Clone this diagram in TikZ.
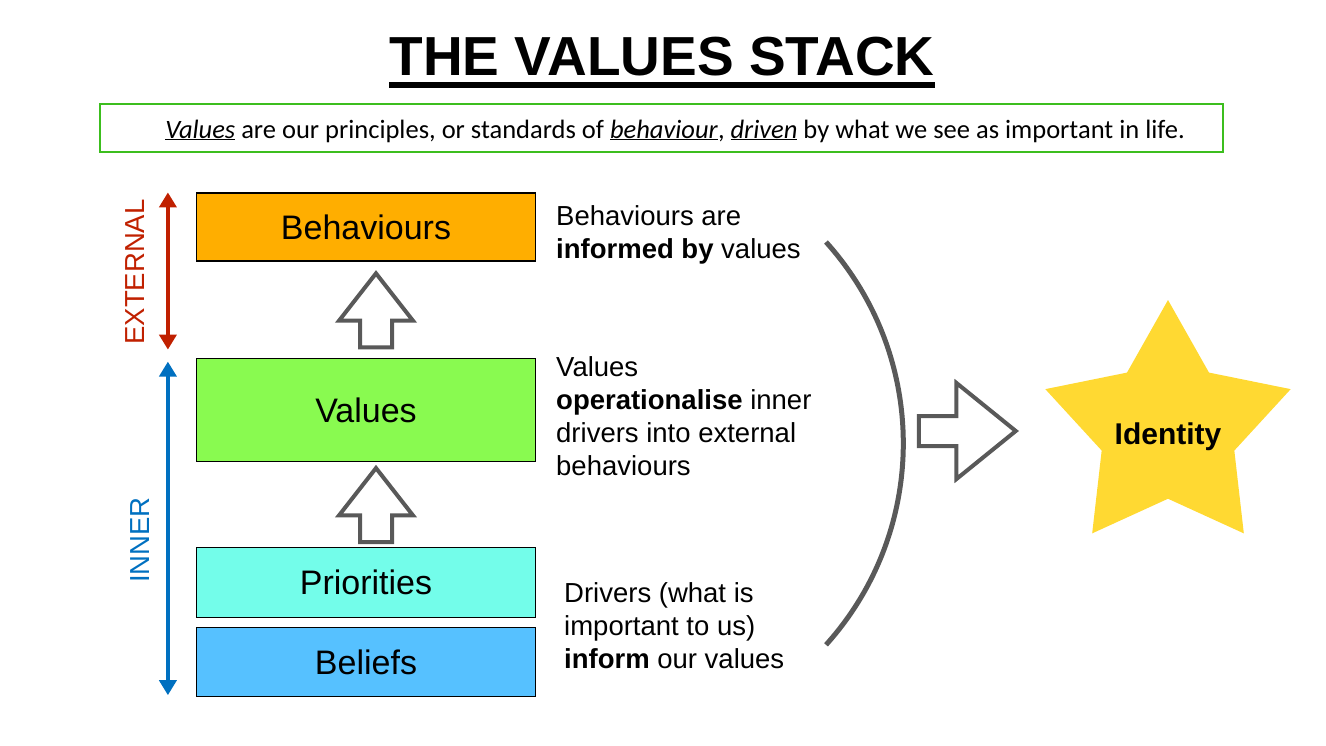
\documentclass[tikz,border=0pt]{standalone}
\usepackage{fontspec}
\setmainfont{Liberation Sans}
\newfontfamily\calibrifont{Carlito}
\usepackage{xcolor}
\usepackage{tikz}
\usetikzlibrary{shapes.geometric, shapes.arrows, arrows.meta, positioning, calc}
\definecolor{behavorange}{RGB}{255, 174, 0}
\definecolor{valuegreen}{RGB}{137, 250, 80}
\definecolor{prioritycyan}{RGB}{115, 253, 234}
\definecolor{beliefblue}{RGB}{86, 193, 255}
\definecolor{staryellow}{RGB}{255, 217, 50}
\definecolor{arrowgrey}{RGB}{89, 89, 89}
\definecolor{externalred}{RGB}{192, 32, 0}
\definecolor{innerblue}{RGB}{0, 112, 192}
\definecolor{framegreen}{RGB}{60, 190, 30}

\begin{document}
\begin{tikzpicture}[x=1pt, y=-1pt,
    stackbox/.style={draw=black, line width=1.2pt, minimum width=339pt, inner sep=0pt,
        font=\fontsize{34}{40}\selectfont, text height=25pt, text depth=0pt},
    sidetext/.style={anchor=north west, inner sep=0pt, align=left,
        font=\fontsize{27.5}{33}\selectfont},
    sidelabel/.style={rotate=90, inner sep=0pt, font=\fontsize{27.5}{33}\selectfont},
    hollowup/.style={single arrow, draw=arrowgrey, fill=white, line width=4pt,
        shape border rotate=90, inner xsep=14pt, inner ysep=0pt, minimum height=74pt,
        minimum width=72pt, single arrow head extend=21pt, single arrow tip angle=76,
        xshift=10pt, yshift=-11pt},
    rangearrow/.style={line width=4pt, {Triangle[width=17pt,length=15pt]}-{Triangle[width=17pt,length=15pt]}}
]
    \useasboundingbox (0,0) rectangle (1326,745);

    % title and definition
    \node[anchor=base, inner sep=0pt, font=\fontsize{55}{60}\selectfont\bfseries] (title) at (662,75) {THE VALUES STACK};
    \draw[line width=6pt] ([yshift=-10pt]title.base west) -- ([yshift=-10pt]title.base east);
    \node[draw=framegreen, line width=2.5pt, minimum width=1123pt, minimum height=48pt] (defbox) at (661.5,128) {};
    \node[anchor=base, inner sep=0pt, font=\calibrifont\fontsize{26.5}{30}\selectfont] (defn) at (675,138)
        {\underline{\textit{Values}} are our principles, or standards of \underline{\textit{behaviour}}, \underline{\textit{driven}} by what we see as important in life.};

    % the stack
    \node[stackbox, fill=behavorange, minimum height=68pt] (behav) at (366,227) {Behaviours};
    \node[stackbox, fill=valuegreen, minimum height=103pt, below=96pt of behav] (values) {Values};
    \node[stackbox, fill=prioritycyan, minimum height=70pt, below=85pt of values] (priorities) {Priorities};
    \node[stackbox, fill=beliefblue, minimum height=69pt, below=9pt of priorities] (beliefs) {Beliefs};

    \node[hollowup] (upone) at ($(values.north)!0.5!(behav.south)$) {};
    \node[hollowup] (uptwo) at ($(priorities.north)!0.5!(values.south)$) {};

    % external / inner ranges
    \coordinate (exttop) at ([xshift=-28pt]behav.north west);
    \coordinate (extbot) at ([xshift=-28pt, yshift=8pt]values.north west);
    \coordinate (innertop) at ([xshift=-28pt, yshift=-4pt]values.north west);
    \coordinate (innerbot) at ([xshift=-28pt, yshift=2pt]beliefs.south west);
    \draw[rangearrow, externalred] (exttop) -- (extbot);
    \draw[rangearrow, innerblue] (innertop) -- (innerbot);
    \node[sidelabel, text=externalred] (external) at (135,272) {EXTERNAL};
    \node[sidelabel, text=innerblue] (inner) at (140,540) {INNER};

    % explanations
    \node[sidetext] (behavtext) at (556,205) {Behaviours are\\\textbf{informed by} values};
    \node[sidetext] (valuetext) at (556,356) {Values\\\textbf{operationalise} inner\\drivers into external\\behaviours};
    \node[sidetext] (drivertext) at (564,582) {Drivers (what is\\important to us)\\\textbf{inform} our values};

    % bracket, arrow and star
    \draw[arrowgrey, line width=5pt] (826,242) arc[start angle=-42, end angle=42, radius=301];
    \node[single arrow, draw=arrowgrey, fill=white, line width=4pt, inner xsep=0pt, inner ysep=13pt,
        minimum height=97pt, minimum width=92pt, single arrow head extend=33pt, single arrow tip angle=78] (toidentity) at (958,431) {};
    \node[star, star points=5, star point ratio=1.85, minimum size=258pt, inner sep=0pt, fill=staryellow] (star) at (1168,429) {};
    \node[font=\fontsize{30}{34}\selectfont\bfseries] (identity) at ([yshift=-8pt]star.center) {Identity};
\end{tikzpicture}
\end{document}
